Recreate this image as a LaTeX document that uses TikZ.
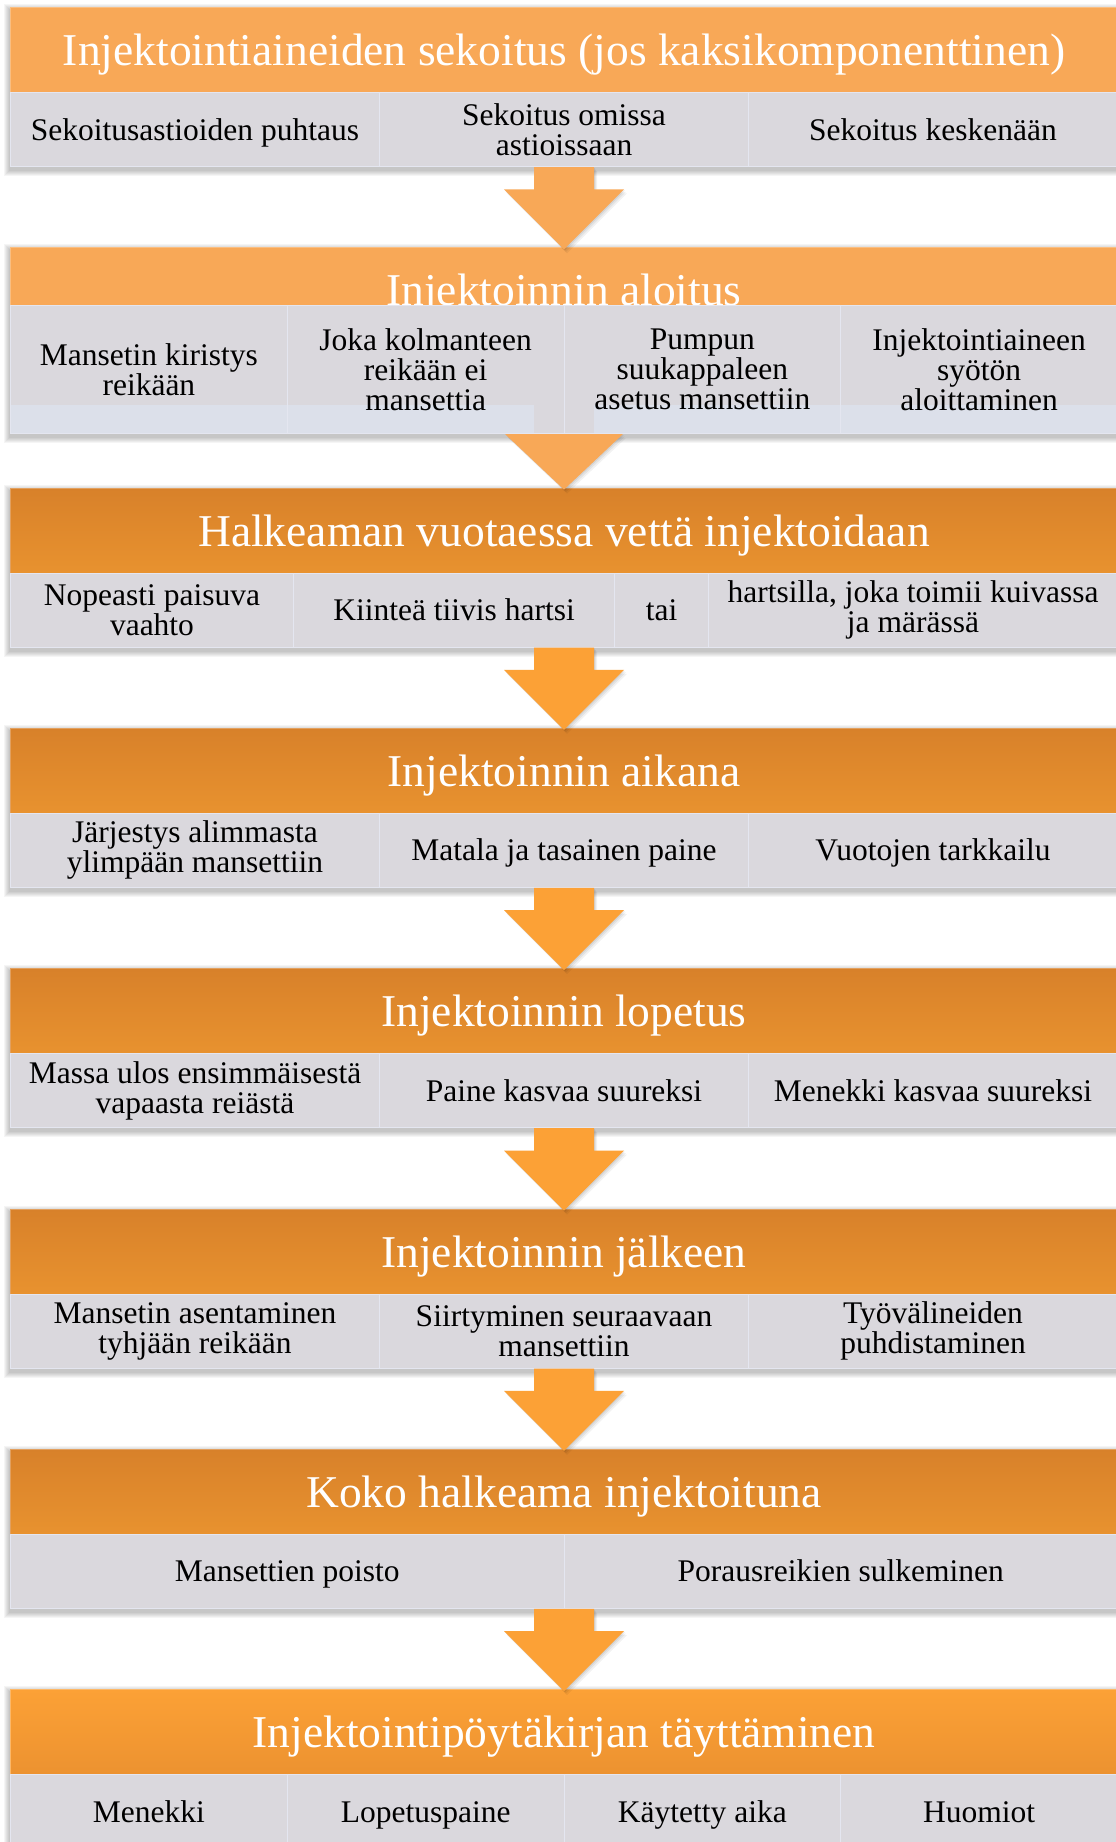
\documentclass[tikz,border=0pt]{standalone}
\usepackage{fontspec}
\setmainfont{Liberation Serif}
\usetikzlibrary{calc,shadows}
\pgfdeclarelayer{background}
\pgfsetlayers{background,main}
\definecolor{hdrlight}{HTML}{F8A857}
\definecolor{hdrtop}{HTML}{D8812A}
\definecolor{hdrbot}{HTML}{E8922F}
\definecolor{lasttop}{HTML}{FCA136}
\definecolor{lastbot}{HTML}{EC9230}
\definecolor{cellgray}{HTML}{DAD8DD}
\definecolor{divline}{HTML}{E4E6F0}
\definecolor{bandblue}{HTML}{DCE0EA}
\definecolor{arrowlight}{HTML}{F8A857}
\definecolor{arrowbright}{HTML}{FCA136}
\newcommand\secshadow[2]{%
  \begin{pgfonlayer}{background}
  \foreach \e in {1,...,6}{%
    \fill[black,opacity=0.04] ($(#1.north west)+(-\e,3-\e)$) rectangle ($(#2.south east)+(\e,3+\e)$);}
  \end{pgfonlayer}}
\begin{document}
\begin{tikzpicture}[x=1pt,y=-1pt,
  hdrbase/.style={anchor=north west, minimum width=1107pt, minimum height=85pt, inner sep=0pt,
    text=white, font=\fontsize{45.5}{50}\selectfont, text height=31pt, text depth=0pt, line width=1pt},
  hdrA/.style={hdrbase, fill=hdrlight, draw=hdrlight!75!white},
  hdrB/.style={hdrbase, top color=hdrtop, bottom color=hdrbot, draw=hdrtop!75!white},
  hdrC/.style={hdrbase, top color=lasttop, middle color=lasttop, bottom color=lastbot, draw=lasttop!75!white},
  cellbase/.style={anchor=north west, minimum width=#1, minimum height=74pt, inner sep=0pt,
    draw=divline, line width=1pt, align=center, text=black, font=\fontsize{31.5}{30}\selectfont},
  cell/.style={cellbase=#1, fill=cellgray, text height=21pt, text depth=0pt},
  cellm/.style={cellbase=#1, fill=cellgray},
  blockarrow/.style={to path={let \p1=(\tikztostart), \p2=(\tikztotarget) in
    (\x1-30pt,\y1) -- (\x1+30pt,\y1) -- (\x1+30pt,\y2+60pt) -- (\x1+60pt,\y2+60pt)
    -- (\x1,\y2) -- (\x1-60pt,\y2+60pt) -- (\x1-30pt,\y2+60pt) -- cycle}},
  headonly/.style={to path={let \p1=(\tikztostart), \p2=(\tikztotarget) in
    (\x1-59pt,\y1) -- (\x1+59pt,\y1) -- (\x1,\y2) -- cycle}},
  arrowshadow/.style={
    general shadow={fill=black, opacity=0.07, shadow xshift=1pt, shadow yshift=-1pt},
    general shadow={fill=black, opacity=0.06, shadow xshift=2pt, shadow yshift=-2.5pt},
    general shadow={fill=black, opacity=0.05, shadow xshift=3pt, shadow yshift=-4pt}},
]
\useasboundingbox (0,0) rectangle (1116,1842);
\clip (0,0) rectangle (1116,1842);
\begin{pgfonlayer}{background}
\fill[white] (0,0) rectangle (1116,1842);
\end{pgfonlayer}

% Section 1
\node[hdrA] (h0) at (10,7) {Injektointiaineiden sekoitus (jos kaksikomponenttinen)};
\node[cell=369pt] (c0a) at (10,92) {Sekoitusastioiden puhtaus};
\node[cellm=369pt] (c0b) at (379,92) {Sekoitus omissa\\astioissaan};
\node[cell=369pt] (c0c) at (748,92) {Sekoitus keskenään};
\secshadow{h0}{c0c}

% Section 2
\node[hdrA] (h1) at (10,247.3) {Injektoinnin aloitus};
\fill[cellgray] (10,305) rectangle (1117,433);
\fill[bandblue] (10,405) rectangle (534,433);
\fill[bandblue] (594,405) rectangle (1117,433);
\node[cellbase=276.75pt, minimum height=128pt] (c1a) at (10,305) {Mansetin kiristys\\reikään};
\node[cellbase=276.75pt, minimum height=128pt] (c1b) at (286.75,305) {Joka kolmanteen\\reikään ei\\mansettia};
\node[cellbase=276.75pt, minimum height=128pt] (c1c) at (563.5,305) {Pumpun\\suukappaleen\\asetus mansettiin};
\node[cellbase=276.75pt, minimum height=128pt] (c1d) at (840.25,305) {Injektointiaineen\\syötön\\aloittaminen};
\secshadow{h1}{c1d}

% Section 3
\node[hdrB] (h2) at (10,487.6) {Halkeaman vuotaessa vettä injektoidaan};
\node[cellm=283pt] (c2a) at (10,572.6) {Nopeasti paisuva\\vaahto};
\node[cell=321pt] (c2b) at (293,572.6) {Kiinteä tiivis hartsi};
\node[cell=94pt] (c2c) at (614,572.6) {tai};
\node[cellm=409pt] (c2d) at (708,572.6) {hartsilla, joka toimii kuivassa\\ja märässä};
\secshadow{h2}{c2d}

% Section 4
\node[hdrB] (h3) at (10,727.9) {Injektoinnin aikana};
\node[cellm=369pt] (c3a) at (10,812.9) {Järjestys alimmasta\\ylimpään mansettiin};
\node[cell=369pt] (c3b) at (379,812.9) {Matala ja tasainen paine};
\node[cell=369pt] (c3c) at (748,812.9) {Vuotojen tarkkailu};
\secshadow{h3}{c3c}

% Section 5
\node[hdrB] (h4) at (10,968.2) {Injektoinnin lopetus};
\node[cellm=369pt] (c4a) at (10,1053.2) {Massa ulos ensimmäisestä\\vapaasta reiästä};
\node[cell=369pt] (c4b) at (379,1053.2) {Paine kasvaa suureksi};
\node[cell=369pt] (c4c) at (748,1053.2) {Menekki kasvaa suureksi};
\secshadow{h4}{c4c}

% Section 6
\node[hdrB] (h5) at (10,1208.5) {Injektoinnin jälkeen};
\node[cellm=369pt] (c5a) at (10,1293.5) {Mansetin asentaminen\\tyhjään reikään};
\node[cellm=369pt] (c5b) at (379,1293.5) {Siirtyminen seuraavaan\\mansettiin};
\node[cellm=369pt] (c5c) at (748,1293.5) {Työvälineiden\\puhdistaminen};
\secshadow{h5}{c5c}

% Section 7
\node[hdrB] (h6) at (10,1448.8) {Koko halkeama injektoituna};
\node[cell=553.5pt] (c6a) at (10,1533.8) {Mansettien poisto};
\node[cell=553.5pt] (c6b) at (563.5,1533.8) {Porausreikien sulkeminen};
\secshadow{h6}{c6b}

% Section 8
\node[hdrC] (h7) at (10,1689.1) {Injektointipöytäkirjan täyttäminen};
\node[cell=276.75pt] (c7a) at (10,1774.1) {Menekki};
\node[cell=276.75pt] (c7b) at (286.75,1774.1) {Lopetuspaine};
\node[cell=276.75pt] (c7c) at (563.5,1774.1) {Käytetty aika};
\node[cell=276.75pt] (c7d) at (840.25,1774.1) {Huomiot};
\secshadow{h7}{c7d}

% Arrows
\path[fill=arrowlight, arrowshadow, blockarrow] (h0.center |- c0a.south) to ($(h1.north)+(0,2)$);
\path[fill=arrowlight, arrowshadow, headonly] (h1.center |- c1a.south) to ($(h2.north)+(0,2)$);
\path[fill=arrowbright, arrowshadow, blockarrow] (h2.center |- c2a.south) to ($(h3.north)+(0,2)$);
\path[fill=arrowbright, arrowshadow, blockarrow] (h3.center |- c3a.south) to ($(h4.north)+(0,2)$);
\path[fill=arrowbright, arrowshadow, blockarrow] (h4.center |- c4a.south) to ($(h5.north)+(0,2)$);
\path[fill=arrowbright, arrowshadow, blockarrow] (h5.center |- c5a.south) to ($(h6.north)+(0,2)$);
\path[fill=arrowbright, arrowshadow, blockarrow] (h6.center |- c6a.south) to ($(h7.north)+(0,2)$);
\end{tikzpicture}
\end{document}
